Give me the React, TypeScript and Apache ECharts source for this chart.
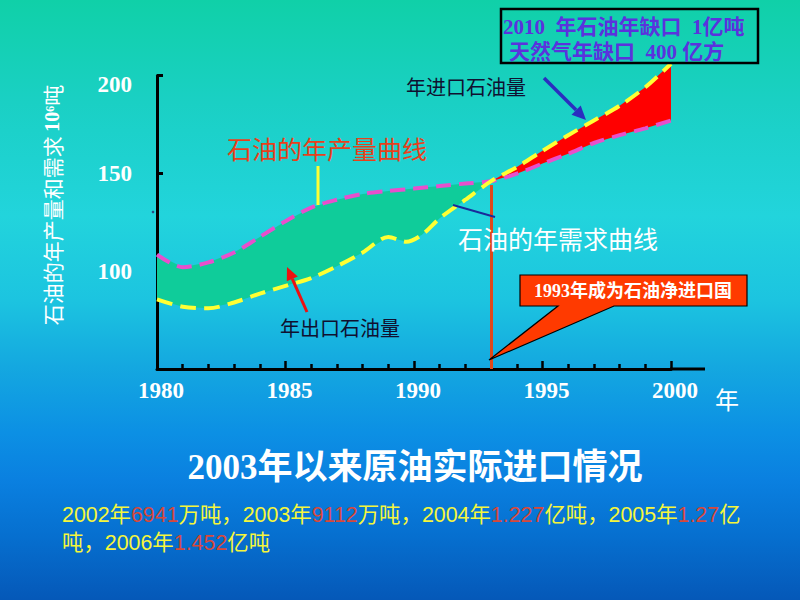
import React, { useEffect, useRef } from 'react';
import * as echarts from 'echarts';

// ---- data ----
const productionYears = [1980, 1981, 1982, 1983, 1984, 1985, 1986, 1987, 1988, 1989, 1990, 1991, 1992, 1993, 1994, 1995, 1996, 1997, 1998, 1999, 2000];
const production = [108.5, 102, 104.5, 109.5, 117.5, 125.5, 132.5, 136.5, 139.5, 141, 142.2, 143.5, 144.8, 146, 149.8, 155, 160, 165.5, 169.5, 173, 177];
const demandYears = [1980, 1981, 1982, 1983, 1984, 1985, 1986, 1987, 1988, 1989, 1989.7, 1990.3, 1991, 1992, 1993, 1994, 1995, 1996, 1997, 1998, 1999, 2000];
const demand = [85.6, 81.8, 81, 84, 88.5, 92.5, 96.5, 102.5, 109.5, 117.5, 115, 118.5, 127, 136.5, 146, 153.2, 161.5, 169.5, 177, 184.5, 194, 206];
const netImportYear = 1993;
const netImportLineTop = 144;
const xMin = 1980;
const xMax = 2000;
const yMin = 50;
const yMax = 200;
const importLine1 = '2002年{r|6941}万吨，2003年{r|9112}万吨，2004年{r|1.227}亿吨，2005年{r|1.27}亿';
const importLine2 = '吨，2006年{r|1.452}亿吨';

const SERIF = '"Liberation Serif", "DejaVu Serif", "Noto Sans CJK SC", serif';
const SANS = '"Noto Sans CJK SC", sans-serif';
const LATIN_SANS = '"Liberation Sans", "Noto Sans CJK SC", sans-serif';

export default function App() {
  const ref = useRef<HTMLDivElement>(null);

  useEffect(() => {
    if (!ref.current) return;
    const chart = echarts.init(ref.current, null, { renderer: 'svg' });

    const axisLabelStyle = {
      color: '#ffffff',
      fontFamily: SERIF,
      fontWeight: 'bold' as const,
      fontSize: 23,
    };

    const option: any = {
      animation: false,
      backgroundColor: 'transparent',
      grid: { left: 157, top: 75.5, right: 129, bottom: 231, containLabel: false },
      xAxis: {
        type: 'value',
        min: xMin,
        max: xMax,
        interval: 5,
        axisLine: { show: true, lineStyle: { color: '#000', width: 3 } },
        axisTick: { show: true, inside: true, length: 8, lineStyle: { color: '#000', width: 2.5 } },
        minorTick: { show: true, splitNumber: 5, length: 5, lineStyle: { color: '#000', width: 2.5 } },
        axisLabel: { ...axisLabelStyle, margin: 10, padding: [0, 0, 0, 8], formatter: (v: number) => String(v) },
        splitLine: { show: false },
        minorSplitLine: { show: false },
      },
      yAxis: {
        type: 'value',
        min: yMin,
        max: yMax,
        interval: 50,
        axisLine: { show: true, lineStyle: { color: '#000', width: 3 } },
        axisTick: { show: true, inside: true, length: 6, lineStyle: { color: '#000', width: 3 } },
        axisLabel: {
          ...axisLabelStyle,
          margin: 25,
          formatter: (v: number) => (v === yMin ? '' : v === yMax ? '{t|' + v + '}' : String(v)),
          rich: { t: { ...axisLabelStyle, padding: [18, 0, 0, 0] } },
        },
        splitLine: { show: false },
      },
      series: [
        {
          type: 'custom',
          coordinateSystem: 'cartesian2d',
          silent: true,
          clip: false,
          z: 2,
          data: [[1990, 100]],
          renderItem: (_params: any, api: any) => {
            const pt = (x: number, y: number) => api.coord([x, y]);
            const green: number[][] = [];
            productionYears.forEach((yr, i) => { if (yr <= netImportYear) green.push(pt(yr, production[i])); });
            for (let i = demandYears.length - 1; i >= 0; i--) {
              if (demandYears[i] <= netImportYear) green.push(pt(demandYears[i], demand[i]));
            }
            const red: number[][] = [];
            demandYears.forEach((yr, i) => { if (yr >= netImportYear) red.push(pt(yr, demand[i])); });
            for (let i = productionYears.length - 1; i >= 0; i--) {
              if (productionYears[i] >= netImportYear) red.push(pt(productionYears[i], production[i]));
            }
            return {
              type: 'group',
              children: [
                { type: 'polygon', shape: { points: green }, style: { fill: '#0fcc9a' } },
                { type: 'polygon', shape: { points: red }, style: { fill: '#ff0000' } },
              ],
            };
          },
        },
        {
          name: '石油的年产量',
          type: 'line',
          data: productionYears.map((x, i) => [x, production[i]]),
          smooth: 0.3,
          symbol: 'none',
          clip: false,
          z: 4,
          lineStyle: { color: '#e84fcc', width: 4, type: [15, 8] },
          markLine: {
            silent: true,
            symbol: 'none',
            label: { show: false },
            lineStyle: { color: '#e0481a', width: 3, type: 'solid' },
            data: [[{ coord: [netImportYear, netImportLineTop] }, { coord: [netImportYear, yMin] }]],
          },
        },
        {
          name: '石油的年需求',
          type: 'line',
          data: demandYears.map((x, i) => [x, demand[i]]),
          smooth: 0.3,
          symbol: 'none',
          clip: false,
          z: 5,
          lineStyle: { color: '#ffff33', width: 4, type: [16, 8] },
        },
      ],
      graphic: [
        // x axis line extension beyond 2000
        { type: 'line', z: 1, shape: { x1: 670, y1: 369, x2: 705, y2: 369 }, style: { stroke: '#000', lineWidth: 3 } },
        // top-right box
        { type: 'rect', z: 10, shape: { x: 501, y: 9, width: 257, height: 54 }, style: { fill: 'transparent', stroke: '#000', lineWidth: 2.5 } },
        { type: 'text', z: 11, x: 503, y: 27, style: { text: '2010  年石油年缺口  1亿吨', fill: '#5b32dd', fontFamily: SERIF, fontWeight: 'bold', fontSize: 21, align: 'left', verticalAlign: 'middle' } },
        { type: 'text', z: 11, x: 509, y: 52, style: { text: '天然气年缺口  400 亿方', fill: '#5b32dd', fontFamily: SERIF, fontWeight: 'bold', fontSize: 21, align: 'left', verticalAlign: 'middle' } },
        // y axis name
        {
          type: 'text', z: 10, x: 52, y: 205, rotation: Math.PI / 2,
          style: {
            text: '石油的年产量和需求 {b|10⁶}吨',
            fill: '#ffffff', fontFamily: SANS, fontSize: 21, align: 'center', verticalAlign: 'middle',
            rich: { b: { fontFamily: SERIF, fontWeight: 'bold', fontSize: 20, fill: '#ffffff' } },
          },
        },
        { type: 'circle', z: 10, shape: { cx: 153, cy: 212, r: 1.3 }, style: { fill: '#2a4a80' } },
        // x axis unit
        { type: 'text', z: 10, x: 727, y: 398, style: { text: '年', fill: '#ffffff', fontFamily: SANS, fontSize: 24, align: 'center', verticalAlign: 'middle' } },
        // curve labels
        { type: 'text', z: 10, x: 327, y: 148, style: { text: '石油的年产量曲线', fill: '#e8401a', fontFamily: SANS, fontSize: 25, align: 'center', verticalAlign: 'middle' } },
        { type: 'line', z: 10, shape: { x1: 318, y1: 166, x2: 318, y2: 205 }, style: { stroke: '#ffff33', lineWidth: 3 } },
        { type: 'text', z: 10, x: 558, y: 238, style: { text: '石油的年需求曲线', fill: '#ffffff', fontFamily: SANS, fontSize: 25, align: 'center', verticalAlign: 'middle' } },
        { type: 'line', z: 10, shape: { x1: 453, y1: 205, x2: 495, y2: 217 }, style: { stroke: '#1a2a9a', lineWidth: 2 } },
        { type: 'text', z: 10, x: 340, y: 327, style: { text: '年出口石油量', fill: '#101030', fontFamily: SANS, fontSize: 20, align: 'center', verticalAlign: 'middle' } },
        { type: 'line', z: 10, shape: { x1: 307, y1: 312, x2: 292.3, y2: 278.9 }, style: { stroke: '#ee1111', lineWidth: 3 } },
        { type: 'polygon', z: 10, shape: { points: [[287, 267], [297.8, 276.5], [286.8, 281.3]] }, style: { fill: '#ee1111' } },
        { type: 'text', z: 10, x: 466, y: 86, style: { text: '年进口石油量', fill: '#101030', fontFamily: SANS, fontSize: 20, align: 'center', verticalAlign: 'middle' } },
        { type: 'line', z: 10, shape: { x1: 544, y1: 78, x2: 576.1, y2: 110.1 }, style: { stroke: '#2a2ec0', lineWidth: 3.5 } },
        { type: 'polygon', z: 10, shape: { points: [[586, 120], [580.7, 105.5], [571.5, 114.7]] }, style: { fill: '#2a2ec0' } },
        // callout
        {
          type: 'polygon', z: 10,
          shape: { points: [[520, 275], [747, 275], [747, 306], [614, 306], [489, 360], [558, 306], [520, 306]] },
          style: { fill: '#ff3a00', stroke: '#000', lineWidth: 1.2 },
        },
        { type: 'text', z: 11, x: 633, y: 291, style: { text: '1993年成为石油净进口国', fill: '#ffffff', fontFamily: SERIF, fontWeight: 'bold', fontSize: 18, align: 'center', verticalAlign: 'middle' } },
        // title
        { type: 'text', z: 10, x: 415, y: 467, style: { text: '2003年以来原油实际进口情况', fill: '#ffffff', fontFamily: SERIF, fontWeight: 'bold', fontSize: 35, align: 'center', verticalAlign: 'middle' } },
        // import notes
        {
          type: 'text', z: 10, x: 62, y: 515,
          style: { text: importLine1, fill: '#f6f63a', fontFamily: LATIN_SANS, fontSize: 21.4, align: 'left', verticalAlign: 'middle', rich: { r: { fill: '#d8483a', fontFamily: LATIN_SANS, fontSize: 21.4 } } },
        },
        {
          type: 'text', z: 10, x: 62, y: 543,
          style: { text: importLine2, fill: '#f6f63a', fontFamily: LATIN_SANS, fontSize: 21.4, align: 'left', verticalAlign: 'middle', rich: { r: { fill: '#d8483a', fontFamily: LATIN_SANS, fontSize: 21.4 } } },
        },
      ],
    };

    chart.setOption(option);
    return () => chart.dispose();
  }, []);

  return (
    <div
      ref={ref}
      style={{
        position: 'absolute',
        left: 0,
        top: 0,
        width: 800,
        height: 600,
        background:
          'linear-gradient(to bottom, #10d0a8 0%, #1ad0c4 17%, #22d4dc 36%, #1cc4e0 50%, #14a8e0 61%, #0c90e4 72%, #0a80e0 80%, #0670d0 89%, #0558b8 100%)',
      }}
    />
  );
}
